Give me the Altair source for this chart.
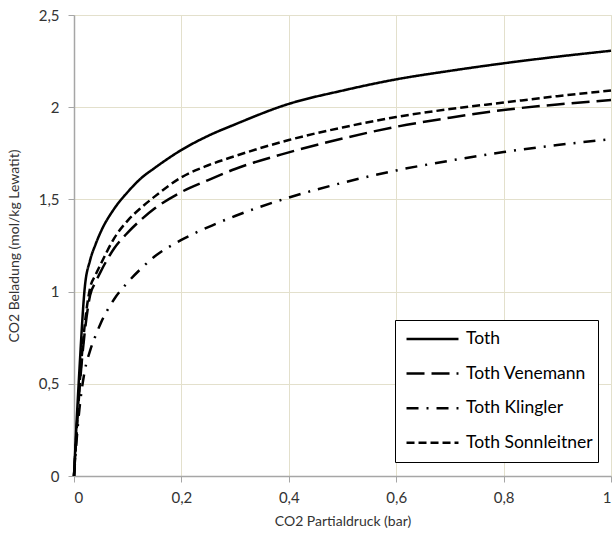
import altair as alt
import pandas as pd

# CO2 partial pressure (bar)
pressure = [0, 0.005, 0.01, 0.02, 0.03, 0.04, 0.05, 0.075, 0.1, 0.125, 0.15,
            0.2, 0.25, 0.3, 0.4, 0.5, 0.6, 0.7, 0.8, 0.9, 1.0]

# CO2 loading (mol/kg Lewatit)
toth = [0, 0.30, 0.57, 1.02, 1.17, 1.255, 1.325, 1.45, 1.54, 1.615, 1.67,
        1.768, 1.845, 1.907, 2.018, 2.09, 2.151, 2.197, 2.238, 2.274, 2.306]
venemann = [0, 0.24, 0.46, 0.78, 0.98, 1.05, 1.11, 1.235, 1.32, 1.39, 1.45,
            1.54, 1.605, 1.665, 1.755, 1.83, 1.894, 1.943, 1.985, 2.015, 2.039]
klingler = [0, 0.20, 0.36, 0.57, 0.68, 0.76, 0.83, 0.96, 1.05, 1.125, 1.19,
            1.28, 1.35, 1.41, 1.51, 1.59, 1.657, 1.71, 1.757, 1.795, 1.826]
sonnleitner = [0, 0.26, 0.48, 0.82, 1.02, 1.09, 1.15, 1.29, 1.385, 1.455, 1.515,
               1.62, 1.685, 1.735, 1.822, 1.89, 1.947, 1.99, 2.025, 2.06, 2.09]

series_names = ["Toth", "Toth Venemann", "Toth Klingler", "Toth Sonnleitner"]
series_values = [toth, venemann, klingler, sonnleitner]
dash_styles = [[1, 0], [18, 7], [12, 8, 2, 8], [8, 4]]

x_ticks = [0, 0.2, 0.4, 0.6, 0.8, 1.0]
y_ticks = [0, 0.5, 1.0, 1.5, 2.0, 2.5]

rows = []
for name, vals in zip(series_names, series_values):
    for p, q in zip(pressure, vals):
        rows.append({"p": p, "q": q, "Modell": name})
df = pd.DataFrame(rows)

FONT = "Lato"
GRID = "#e3e0cc"
AXIS = "#a6a6a6"
TEXT = "#333333"

label_expr = "replace(datum.label, '.', ',')"

chart = alt.Chart(df).mark_line(
    color="black", strokeWidth=2.5, interpolate="monotone", strokeCap="butt"
).encode(
    x=alt.X(
        "p:Q",
        scale=alt.Scale(domain=[0, 1], nice=False, zero=True),
        axis=alt.Axis(
            title="CO2 Partialdruck (bar)", values=x_ticks, format=".1~f",
            labelExpr=label_expr, grid=True, gridColor=GRID, gridWidth=1,
            domainColor=AXIS, domainWidth=1.5, tickColor=AXIS, tickSize=6,
            labelPadding=8, labelFont=FONT, labelFontSize=15, labelColor=TEXT,
            titleFont=FONT, titleFontSize=14, titleFontWeight="normal",
            titleColor=TEXT, titleY=45, titleBaseline="middle",
        ),
    ),
    y=alt.Y(
        "q:Q",
        scale=alt.Scale(domain=[0, 2.5], nice=False),
        axis=alt.Axis(
            title="CO2 Beladung (mol/kg Lewatit)", values=y_ticks, format=".1~f",
            labelExpr=label_expr, grid=True, gridColor=GRID, gridWidth=1,
            domainColor=AXIS, domainWidth=1.5, tickColor=AXIS, tickSize=6,
            labelPadding=9, labelFont=FONT, labelFontSize=15, labelColor=TEXT,
            titleFont=FONT, titleFontSize=14, titleFontWeight="normal",
            titleColor=TEXT, titleX=-60, titleY=230.5, titleBaseline="middle",
        ),
    ),
    strokeDash=alt.StrokeDash(
        "Modell:N",
        scale=alt.Scale(domain=series_names, range=dash_styles),
        legend=alt.Legend(
            title=None, orient="none", legendX=321, legendY=305,
            direction="vertical",
            strokeColor="black", fillColor="white", padding=5,
            symbolType="stroke", symbolSize=2700, symbolStrokeWidth=2.5,
            symbolStrokeColor="black", symbolOffset=5,
            labelFont=FONT, labelFontSize=17.5,
            labelColor="black", rowPadding=6.6, labelOffset=6,
            clipHeight=28,
        ),
    ),
).properties(
    width=537, height=461,
    padding={"left": 74, "top": 15, "right": 3, "bottom": 68},
    autosize="none",
).configure_view(
    stroke="black", strokeWidth=1.5
).configure(
    background="white"
)

chart.save("out.html", embed_options={"renderer": "svg", "actions": False})
